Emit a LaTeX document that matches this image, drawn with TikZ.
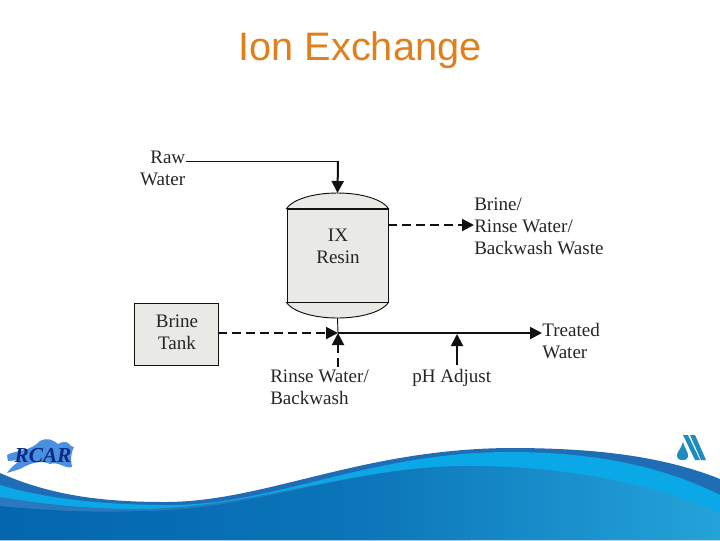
\documentclass[tikz,border=0pt]{standalone}
\usepackage{fontspec}
\setmainfont{Liberation Serif}
\newfontfamily\titlefont{Liberation Sans}
\usetikzlibrary{arrows.meta}
\definecolor{titleorange}{HTML}{E0801C}
\definecolor{resingray}{HTML}{E9E9E6}
\definecolor{inkline}{HTML}{111111}
\definecolor{wavedark}{HTML}{1F6DB5}
\definecolor{wavelight}{HTML}{0BA8E8}
\definecolor{waveband}{HTML}{2A78BE}
\definecolor{wavemain}{HTML}{0366AE}
\definecolor{waveend}{HTML}{24A3DA}
\definecolor{rcarpale}{HTML}{4A8FE0}
\definecolor{rcarnavy}{HTML}{0A2A85}
\definecolor{droplet}{HTML}{1E8DBE}
\tikzset{
  label/.style={font=\fontsize{14.3}{16.5}\selectfont, text=black!85, inner sep=0pt, align=left, anchor=west},
  resin/.style={draw=inkline, fill=resingray, line width=0.7pt},
  thin line/.style={draw=inkline, line width=0.7pt},
  feed/.style={draw=inkline, line width=1.5pt, -{Triangle[length=9pt,width=9pt]}},
  feed dashed/.style={feed, dash pattern=on 6.5pt off 4pt}
}
\begin{document}
\begin{tikzpicture}[x=0.75pt,y=-0.75pt]
\useasboundingbox (0,0) rectangle (720,540);
\node[font=\titlefont\fontsize{29.8}{32}\selectfont, text=titleorange, inner sep=0pt] (title) at (360,50) {Ion Exchange};

% tank
\node[resin, minimum width=75.75pt, minimum height=69.75pt, inner sep=0pt] (tank) at (337.5,255.5) {};
\draw[resin] (tank.north west) .. controls (292,200) and (312,193) .. (337.5,193) coordinate (tanktop)
  .. controls (363,193) and (383,200) .. (tank.north east) -- cycle;
\draw[resin] (tank.south west) .. controls (292,311) and (312,318) .. (337.5,318) coordinate (tankbot)
  .. controls (363,318) and (383,311) .. (tank.south east) -- cycle;
\node[label, align=center, anchor=center] (ixresin) at (338,246.5) {IX\\Resin};
\coordinate (tankout) at (388,225);

\node[resin, minimum width=63pt, minimum height=46.5pt, inner sep=0pt] (brinetank) at (176,334) {};
\node[label, align=center, anchor=center] (brinetext) at (177,332) {Brine\\Tank};

% labels
\node[label, align=right, anchor=east] (rawwater) at (185.5,168.5) {Raw\\Water};
\node[label] (waste) at (474,226) {Brine/\\Rinse Water/\\Backwash Waste};
\node[label] (treated) at (542,341) {Treated\\Water};
\node[label] (rinse) at (270,387) {Rinse Water/\\Backwash};
\node[label] (ph) at (412,378) {pH Adjust};

% lines
\coordinate (rawtap) at (186,161);
\coordinate (rawbend) at (338,161);
\coordinate (junction) at (338,333);
\coordinate (rinsein) at (338,367);
\coordinate (phin) at (457,365);
\coordinate (phjoin) at (457,334);
\draw[thin line] (rawtap) -- (rawbend);
\draw[feed] (rawbend) -- (tanktop);
\draw[feed dashed] (tankout) -- (waste.west |- tankout);
\draw[thin line] (tankbot) -- (junction);
\draw[feed dashed] (brinetank.east |- junction) -- (junction);
\draw[feed dashed] (rinsein) -- (junction);
\draw[feed] (junction) -- (treated.west |- junction);
\draw[feed] (phin) -- (phjoin);

% waves
\fill[wavedark] (0,473) .. controls (50,495) and (100,502) .. (165,502)
  .. controls (265,502) and (360,449) .. (510,448) .. controls (590,448) and (660,455) .. (720,479)
  -- (720,540) -- (0,540) -- cycle;
\fill[wavelight] (0,485) .. controls (50,500) and (110,505) .. (170,505)
  .. controls (275,505) and (370,452) .. (510,452) .. controls (590,452) and (660,465) .. (720,495)
  -- (720,540) -- (0,540) -- cycle;
\fill[waveband] (0,497) .. controls (40,504) and (90,509) .. (135,509)
  .. controls (255,509) and (350,466) .. (470,466) -- (470,540) -- (0,540) -- cycle;
\shade[left color=wavemain, right color=waveend, middle color=wavemain!75!waveend]
  (0,506) .. controls (40,510) and (90,513) .. (140,511)
  .. controls (255,511) and (350,466) .. (470,466) .. controls (560,466) and (650,482) .. (720,513)
  -- (720,540) -- (0,540) -- cycle;

% logos
\fill[rcarpale] (7,455) .. controls (15,450) and (30,452) .. (40,441) .. controls (48,437) and (53,440) .. (58,444)
  .. controls (63,441) and (68,441) .. (71,446) -- (74,447) .. controls (70,455) and (71,462) .. (72,467)
  .. controls (65,469) and (58,461) .. (50,464) .. controls (42,460) and (32,462) .. (20,469) -- (7,473)
  .. controls (12,466) and (16,464) .. (20,460) -- (8,461) -- cycle;
\node[font=\bfseries\itshape\fontsize{16}{16}\selectfont, text=rcarnavy, inner sep=0pt] (rcar) at (43,456) {RCAR};
\fill[droplet] (683,442) .. controls (685,449) and (688,452) .. (688,455) .. controls (688,459) and (686,460) .. (682.5,460)
  .. controls (679,460) and (677,459) .. (677,455) .. controls (677,452) and (681,449) .. (683,442) -- cycle;
\fill[droplet] (683,435) -- (688,435) -- (700,460) -- (695,460) -- cycle;
\fill[droplet] (690,435) -- (695,435) -- (706,460) -- (701,460) -- cycle;
\end{tikzpicture}
\end{document}
